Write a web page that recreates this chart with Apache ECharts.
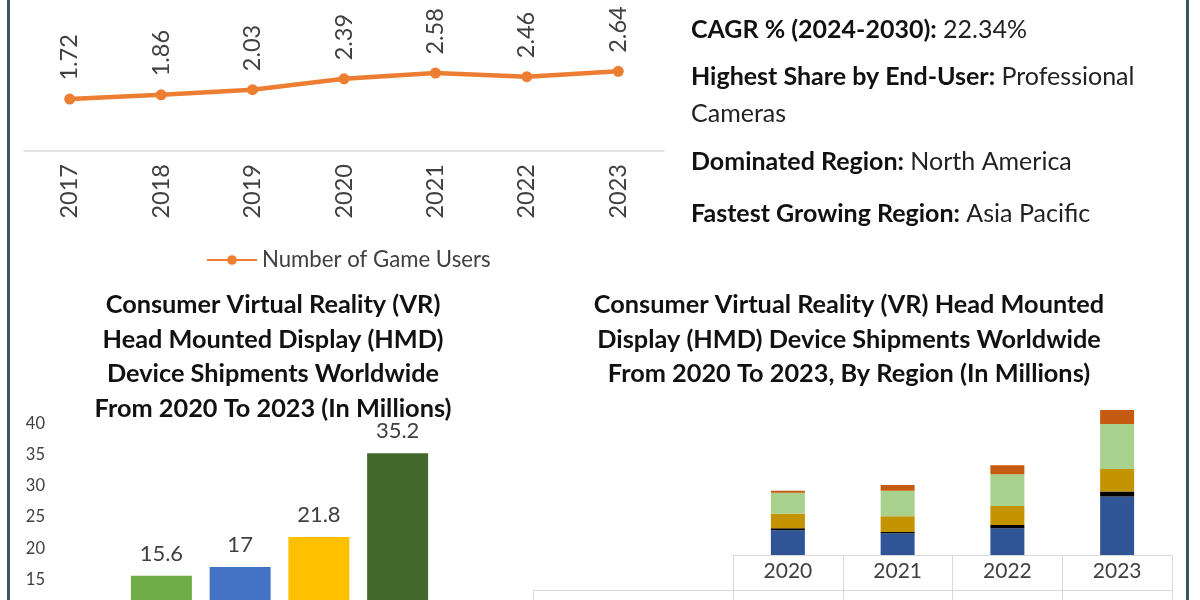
<!DOCTYPE html>
<html>
<head>
<meta charset="utf-8">
<script src="https://cdn.jsdelivr.net/npm/echarts@6/dist/echarts.min.js"></script>
<style>
html,body{margin:0;padding:0;background:#fff;}
#c{width:1200px;height:600px;}
</style>
</head>
<body>
<div id="c"></div>
<script>
// ---- data ----
const userYears = ['2017', '2018', '2019', '2020', '2021', '2022', '2023'];
const gameUsers = [1.72, 1.86, 2.03, 2.39, 2.58, 2.46, 2.64];

const shipYears = ['2020', '2021', '2022', '2023'];
const shipments = [15.6, 17, 21.8, 35.2];

const regionNames = ['North America', 'Middle East & Africa', 'Europe', 'Asia Pacific', 'South America'];
const northAmerica = [6.0, 5.3, 6.5, 14.2];
const middleEastAfrica = [0.5, 0.3, 0.8, 1.2];
const europe = [3.5, 3.8, 4.6, 5.5];
const asiaPacific = [5.1, 6.2, 7.7, 10.9];
const southAmerica = [0.5, 1.4, 2.2, 3.4];

const shipTicks = [0, 5, 10, 15, 20, 25, 30, 35, 40];

// ---- styles ----
const FONT = 'Lato';
const TXT = '#404040';
const barColors = ['#70AD47', '#4472C4', '#FFC000', '#43682B'];
const regionColors = ['#2F5597', '#000000', '#C49300', '#A9D18E', '#C55A11'];
const regionData = [northAmerica, middleEastAfrica, europe, asiaPacific, southAmerica];

const chart = echarts.init(document.getElementById('c'));

const INFO_SIZE = 25;
function infoLine(y, bold, normal) {
  return {
    type: 'text', x: 691, y: y,
    style: {
      text: '{b|' + bold + '}' + (normal ? '{n| ' + normal + '}' : ''),
      verticalAlign: 'middle',
      rich: {
        b: { fontFamily: FONT, fontWeight: 'bold', fontSize: INFO_SIZE, fill: '#111' },
        n: { fontFamily: FONT, fontSize: INFO_SIZE, fill: '#222' }
      }
    }
  };
}

const TITLE_SIZE = 25.3;

const option = {
  backgroundColor: '#ffffff',
  animation: false,
  textStyle: { fontFamily: FONT },
  legend: {
    data: ['Number of Game Users'],
    left: 201, top: 244,
    itemWidth: 50, itemHeight: 12, itemGap: 10,
    textStyle: { fontFamily: FONT, fontSize: 22.2, color: TXT }
  },
  grid: [
    { left: 24, width: 640, top: 0, height: 151, outerBoundsMode: 'none', containLabel: false },
    { left: 122, width: 315, top: 423.4, height: 249.6, outerBoundsMode: 'none', containLabel: false },
    { left: 733, width: 439, top: 390.2, height: 164.8, outerBoundsMode: 'none', containLabel: false }
  ],
  xAxis: [
    {
      type: 'category', gridIndex: 0, data: userYears,
      axisLine: { lineStyle: { color: '#d9d9d9', width: 1.5 } },
      axisTick: { show: false },
      axisLabel: { rotate: 90, margin: 13, fontFamily: FONT, fontSize: 23.5, color: TXT }
    },
    {
      type: 'category', gridIndex: 1, data: shipYears, show: false
    },
    {
      type: 'category', gridIndex: 2, data: shipYears,
      axisLine: { lineStyle: { color: '#d9d9d9', width: 1 } },
      axisTick: { show: true, length: 60, inside: false, lineStyle: { color: '#d9d9d9' } },
      axisLabel: { margin: 6, fontFamily: FONT, fontSize: 21, color: TXT }
    }
  ],
  yAxis: [
    { type: 'value', gridIndex: 0, min: 0, max: 5, show: false },
    {
      type: 'value', gridIndex: 1, min: shipTicks[0], max: shipTicks[shipTicks.length - 1], interval: 5,
      axisLine: { show: false }, axisTick: { show: false }, splitLine: { show: false },
      axisLabel: { margin: 77, fontFamily: FONT, fontSize: 16.5, color: TXT }
    },
    { type: 'value', gridIndex: 2, min: 0, max: 40, show: false }
  ],
  graphic: [
    { type: 'rect', shape: { x: 7, y: 0, width: 3, height: 600 }, style: { fill: '#3B5566' } },
    { type: 'rect', shape: { x: 1186, y: 0, width: 3, height: 600 }, style: { fill: '#3B5566' } },
    { type: 'line', shape: { x1: 533, y1: 590.5, x2: 1172, y2: 590.5 }, style: { stroke: '#d9d9d9', lineWidth: 1 } },
    { type: 'line', shape: { x1: 533.5, y1: 590, x2: 533.5, y2: 600 }, style: { stroke: '#d9d9d9', lineWidth: 1 } },
    {
      type: 'text', x: 273, y: 305,
      style: {
        text: 'Consumer Virtual Reality (VR)\nHead Mounted Display (HMD)\nDevice Shipments Worldwide\nFrom 2020 To 2023 (In Millions)',
        textAlign: 'center', textVerticalAlign: 'top', fontFamily: FONT, fontWeight: 'bold', fontSize: TITLE_SIZE, lineHeight: 34.4, fill: '#111',
        y: -17
      }
    },
    {
      type: 'text', x: 849, y: 305,
      style: {
        text: 'Consumer Virtual Reality (VR) Head Mounted\nDisplay (HMD) Device Shipments Worldwide\nFrom 2020 To 2023, By Region (In Millions)',
        textAlign: 'center', textVerticalAlign: 'top', fontFamily: FONT, fontWeight: 'bold', fontSize: TITLE_SIZE, lineHeight: 34.4, fill: '#111',
        y: -17
      }
    },
    infoLine(30, 'CAGR % (2024-2030):', '22.34%'),
    infoLine(77, 'Highest Share by End-User:', 'Professional'),
    { type: 'text', x: 691, y: 114, style: { text: 'Cameras', verticalAlign: 'middle', fontFamily: FONT, fontSize: INFO_SIZE, fill: '#222' } },
    infoLine(162, 'Dominated Region:', 'North America'),
    infoLine(214, 'Fastest Growing Region:', 'Asia Pacific')
  ],
  series: [
    {
      name: 'Number of Game Users', type: 'line', xAxisIndex: 0, yAxisIndex: 0,
      data: gameUsers,
      color: '#ED7D31',
      lineStyle: { width: 4.5, color: '#ED7D31' },
      symbol: 'circle', symbolSize: 11,
      itemStyle: { color: '#ED7D31' },
      label: {
        show: true, position: 'top', rotate: 90, align: 'left', verticalAlign: 'middle',
        distance: 13, fontFamily: FONT, fontSize: 23.5, color: TXT
      }
    },
    {
      name: 'Shipments', type: 'bar', xAxisIndex: 1, yAxisIndex: 1,
      barWidth: 61,
      data: shipments.map((v, i) => ({ value: v, itemStyle: { color: barColors[i] } })),
      label: { show: true, position: 'top', distance: 11, fontFamily: FONT, fontSize: 22, color: TXT }
    }
  ].concat(regionNames.map((name, i) => ({
    name: name, type: 'bar', stack: 'region', xAxisIndex: 2, yAxisIndex: 2,
    barWidth: 34, data: regionData[i], itemStyle: { color: regionColors[i] }
  })))
};
chart.setOption(option);
</script>
</body>
</html>
